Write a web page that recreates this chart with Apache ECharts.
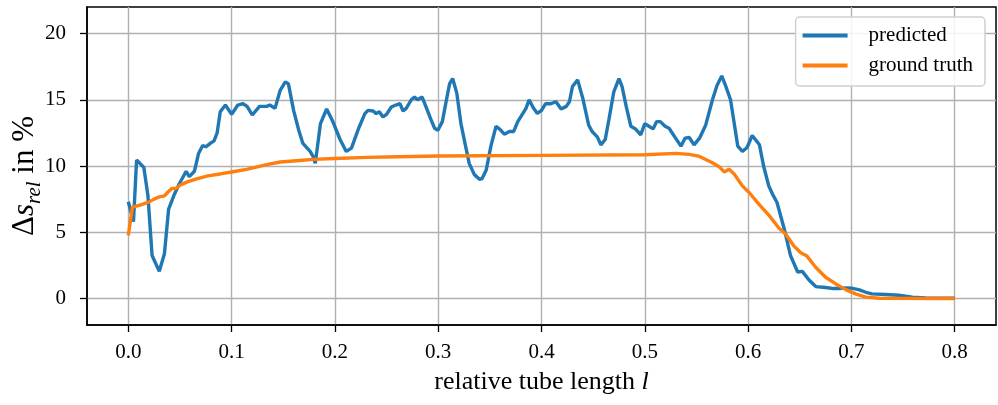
<!DOCTYPE html>
<html>
<head>
<meta charset="utf-8">
<script src="https://cdn.jsdelivr.net/npm/echarts@6/dist/echarts.min.js"></script>
<style>
html,body{margin:0;padding:0;background:#fff;}
#c{width:998px;height:405px;}
</style>
</head>
<body>
<div id="c"></div>
<script>
// relative tube length l (x) and Δs_rel in % (y)
const predictedL = [0.000,0.005,0.008,0.015,0.019,0.023,0.030,0.035,0.039,0.044,0.049,0.056,0.059,0.064,0.068,0.072,0.075,0.080,0.083,0.086,0.089,0.094,0.100,0.106,0.111,0.115,0.120,0.127,0.134,0.137,0.142,0.147,0.152,0.155,0.160,0.165,0.169,0.176,0.179,0.181,0.186,0.192,0.198,0.205,0.211,0.216,0.223,0.229,0.232,0.237,0.240,0.243,0.2465,0.250,0.2546,0.259,0.263,0.266,0.269,0.274,0.277,0.280,0.2845,0.288,0.293,0.2965,0.2997,0.304,0.308,0.311,0.314,0.318,0.322,0.3265,0.330,0.335,0.340,0.3425,0.3465,0.351,0.356,0.360,0.364,0.369,0.373,0.377,0.382,0.385,0.388,0.392,0.396,0.400,0.404,0.409,0.414,0.419,0.424,0.427,0.430,0.435,0.440,0.4456,0.449,0.454,0.4575,0.4617,0.4655,0.470,0.475,0.478,0.482,0.4865,0.491,0.496,0.500,0.504,0.508,0.5115,0.515,0.5196,0.5235,0.529,0.535,0.539,0.543,0.5477,0.553,0.559,0.5655,0.570,0.5745,0.578,0.583,0.587,0.590,0.5945,0.599,0.604,0.611,0.615,0.620,0.6235,0.628,0.635,0.641,0.648,0.6525,0.659,0.6655,0.675,0.683,0.688,0.695,0.701,0.707,0.714,0.720,0.733,0.746,0.759,0.772,0.800];
const predictedS = [7.3,5.8,10.45,9.9,7.75,3.25,2.05,3.4,6.75,7.75,8.6,9.6,9.2,9.6,10.95,11.55,11.45,11.75,11.9,12.5,14.1,14.6,13.9,14.6,14.7,14.5,13.85,14.5,14.5,14.6,14.35,15.7,16.35,16.2,14.2,12.7,11.7,11.1,10.7,10.2,13.2,14.3,13.35,12.0,11.1,11.35,12.85,13.95,14.2,14.15,13.95,14.1,13.7,13.9,14.45,14.6,14.7,14.15,14.35,15.0,15.2,15.0,15.2,14.5,13.5,12.85,12.7,13.35,15.0,16.2,16.6,15.5,13.2,11.5,10.2,9.35,9.0,9.05,9.7,11.5,13.0,12.75,12.4,12.6,12.6,13.35,13.97,14.35,15.0,14.4,13.97,14.2,14.7,14.7,14.85,14.3,14.5,14.85,16.0,16.5,15.1,13.1,12.6,12.2,11.6,12.0,13.6,15.6,16.6,16.0,14.5,13.0,12.8,12.35,13.2,13.0,12.8,13.35,13.35,13.0,12.85,12.2,11.5,12.1,12.15,11.6,12.1,13.1,15.0,16.1,16.8,16.1,15.0,13.0,11.5,11.1,11.4,12.3,11.6,10.0,8.5,7.9,7.25,5.25,3.25,2.0,2.05,1.4,0.9,0.83,0.75,0.75,0.8,0.77,0.67,0.47,0.35,0.3,0.25,0.1,0.05,0.02];
const truthL = [0.000,0.004,0.012,0.019,0.025,0.030,0.035,0.038,0.042,0.046,0.050,0.057,0.067,0.077,0.089,0.100,0.1145,0.134,0.147,0.163,0.179,0.200,0.231,0.262,0.300,0.400,0.500,0.530,0.543,0.552,0.5655,0.572,0.5768,0.5816,0.5865,0.5945,0.601,0.6106,0.620,0.630,0.6365,0.6445,0.651,0.657,0.665,0.675,0.685,0.6945,0.704,0.714,0.727,0.800];
const truthS = [4.75,6.9,7.07,7.25,7.5,7.67,7.75,8.0,8.3,8.3,8.55,8.8,9.05,9.25,9.4,9.55,9.75,10.1,10.3,10.4,10.5,10.57,10.65,10.7,10.75,10.8,10.85,10.95,10.88,10.75,10.25,9.95,9.55,9.75,9.4,8.5,8.0,7.1,6.3,5.3,4.85,3.95,3.45,3.2,2.4,1.6,1.1,0.67,0.35,0.1,0.02,0.0];
const xTicks = [0.0,0.1,0.2,0.3,0.4,0.5,0.6,0.7,0.8];
const yTicks = [0,5,10,15,20];
const seriesNames = ['predicted','ground truth'];

const FONT = "'Liberation Serif','DejaVu Serif',serif";
const zip = (a,b) => a.map((v,i)=>[v,b[i]]);

const chart = echarts.init(document.getElementById('c'), null, {renderer:'canvas'});
chart.setOption({
  animation:false,
  backgroundColor:'#fff',
  grid:{left:87,right:2,top:7,bottom:80,containLabel:false,outerBoundsMode:'none',show:true,borderColor:'#000',borderWidth:1.5,backgroundColor:'transparent'},
  legend:{
    orient:'vertical', right:13, top:17,
    icon:'rect', itemWidth:45, itemHeight:4, itemGap:9,
    padding:[8,12,10,7],
    backgroundColor:'rgba(255,255,255,0.85)', borderColor:'#d0d0d0', borderWidth:1.5, borderRadius:4,
    textStyle:{fontFamily:FONT,fontSize:21,color:'#000',padding:[0,0,0,16]},
    data:seriesNames
  },
  xAxis:{
    type:'value', min:-0.04, max:0.84,
    name:'{a|relative tube length }{i|l}',
    nameLocation:'middle', nameGap:44, nameMoveOverlap:false,
    nameTextStyle:{rich:{a:{fontFamily:FONT,fontSize:26,color:'#000'},i:{fontFamily:FONT,fontSize:26,fontStyle:'italic',color:'#000'}}},
    axisLine:{show:true,onZero:false,lineStyle:{color:'#000',width:1.5}},
    axisTick:{show:true,length:7,lineStyle:{color:'#000',width:1.3},customValues:xTicks},
    axisLabel:{customValues:xTicks,fontFamily:FONT,fontSize:21,color:'#000',margin:17,formatter:v=>Number(v).toFixed(1)},
    splitLine:{show:true,lineStyle:{color:'#b0b0b0',width:1.4}}
  },
  yAxis:{
    type:'value', min:-2, max:22,
    name:'{d|Δ}{i|s}{sub|rel}{n| in %}',
    nameLocation:'middle', nameGap:42, nameRotate:90, nameMoveOverlap:false,
    nameTextStyle:{rich:{
      d:{fontFamily:FONT,fontSize:31,color:'#000',lineHeight:40},
      i:{fontFamily:FONT,fontSize:31,fontStyle:'italic',color:'#000',lineHeight:40},
      sub:{fontFamily:FONT,fontSize:21,fontStyle:'italic',color:'#000',lineHeight:20,verticalAlign:'bottom'},
      n:{fontFamily:FONT,fontSize:31,color:'#000',lineHeight:40,padding:[0,20,0,0]}
    }},
    axisLine:{show:true,onZero:false,lineStyle:{color:'#000',width:1.5}},
    axisTick:{show:true,length:7,lineStyle:{color:'#000',width:1.3},customValues:yTicks},
    axisLabel:{customValues:yTicks,fontFamily:FONT,fontSize:21,color:'#000',margin:21},
    splitLine:{show:true,lineStyle:{color:'#b0b0b0',width:1.4}}
  },
  series:[
    {name:seriesNames[0],type:'line',data:zip(predictedL,predictedS),showSymbol:false,symbol:'none',lineStyle:{color:'#1f77b4',width:3.4},itemStyle:{color:'#1f77b4'},z:3},
    {name:seriesNames[1],type:'line',data:zip(truthL,truthS),showSymbol:false,symbol:'none',lineStyle:{color:'#ff7f0e',width:3.4},itemStyle:{color:'#ff7f0e'},z:4}
  ]
});
</script>
</body>
</html>
